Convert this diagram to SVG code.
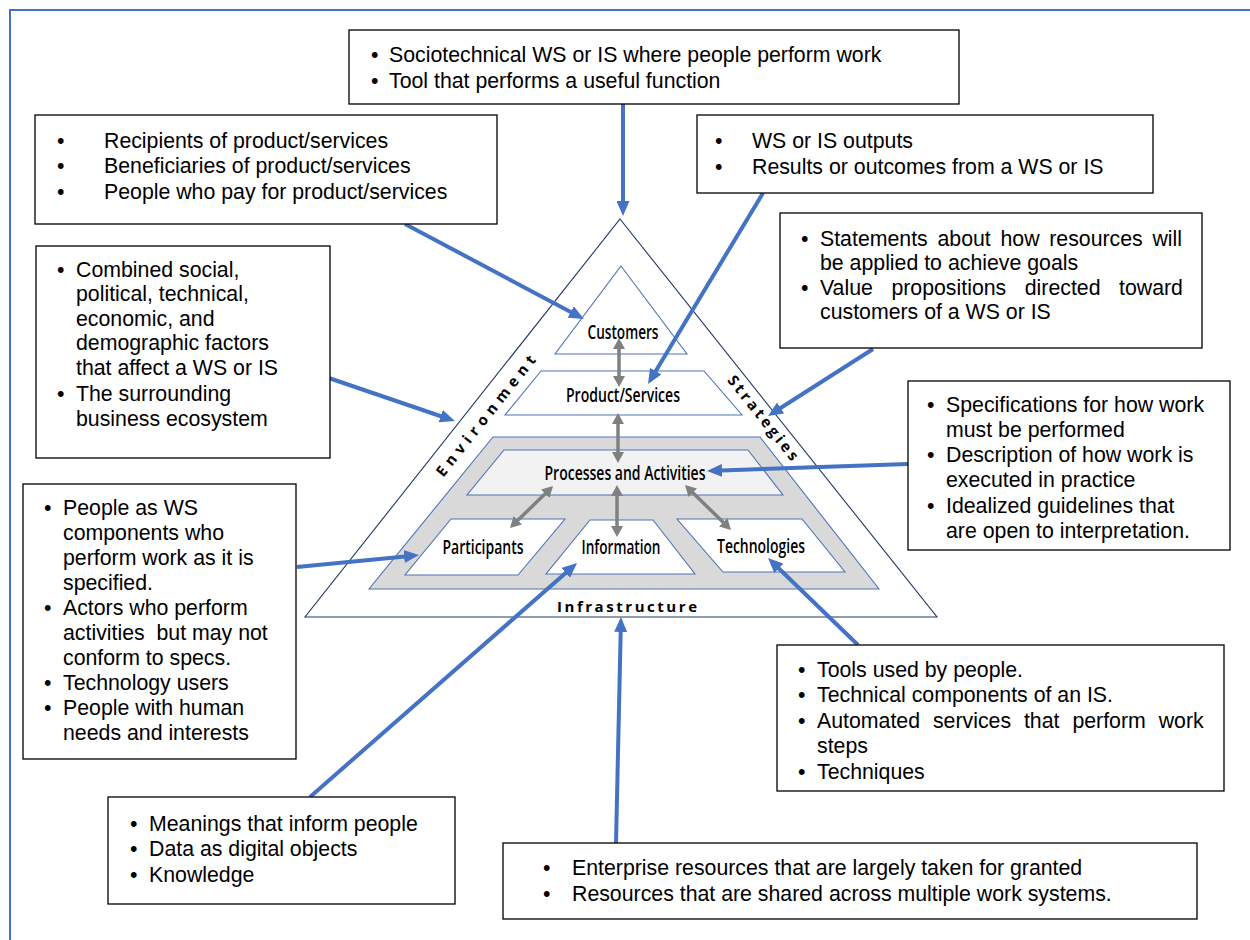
<svg xmlns="http://www.w3.org/2000/svg" width="1250" height="940" viewBox="0 0 1250 940">
  <style>
    .box { fill: #fff; stroke: #000; stroke-width: 1.3; }
    .t { font-family: "Liberation Sans", Arial, sans-serif; font-size: 21.3px; fill: #000; }
    .lbl { font-family: "Open Sans", "Noto Sans", sans-serif; font-weight: 600; font-size: 19px; fill: #000; text-anchor: middle; }
    .side { font-family: "Open Sans", "Noto Sans", sans-serif; font-weight: 700; font-size: 15px; fill: #000; text-anchor: middle; }
    .layer { stroke: #4f74b8; stroke-width: 1.1; }
    .conn { stroke: #4472c4; stroke-width: 4; fill: none; marker-end: url(#ah); }
    .link { stroke: #808080; stroke-width: 3.5; fill: none; marker-start: url(#gh); marker-end: url(#gh); }
  </style>
  <defs>
    <marker id="ah" viewBox="0 0 15 13" refX="1" refY="6.5" markerWidth="15" markerHeight="13" markerUnits="userSpaceOnUse" orient="auto">
      <path d="M0,0 L15,6.5 L0,13 z" fill="#4472c4"/>
    </marker>
    <marker id="gh" viewBox="0 0 11 12" refX="1" refY="6" markerWidth="11" markerHeight="12" markerUnits="userSpaceOnUse" orient="auto-start-reverse">
      <path d="M0,0 L11,6 L0,12 z" fill="#808080"/>
    </marker>
  </defs>

  <rect width="1250" height="940" fill="#fff"/>
  <!-- page frame -->
  <path d="M10,940 V10 H1250" fill="none" stroke="#4472c4" stroke-width="2"/>

  <!-- work system pyramid -->
  <g id="ws-frame">
    <polygon points="620,219 937,617 305,617" fill="#fff" stroke="#1f3864" stroke-width="1.1"/>
  </g>
  <g id="customers">
    <polygon class="layer" points="621,266 687,354 555,354" fill="#fff"/>
    <text class="lbl" x="623" y="339" textLength="71" lengthAdjust="spacingAndGlyphs">Customers</text>
  </g>
  <g id="product-services">
    <polygon class="layer" points="541,371 704,371 742,415 505,415" fill="#fff"/>
    <text class="lbl" x="623" y="402" textLength="114" lengthAdjust="spacingAndGlyphs">Product/Services</text>
  </g>
  <g id="work-core">
    <polygon class="layer" points="493,437 760,437 879,589 369,589" fill="#d9d9d9"/>
  </g>
  <g id="processes">
    <polygon class="layer" points="504,450 748,450 783,495 467,495" fill="#f2f2f2"/>
    <text class="lbl" x="625" y="480" textLength="161" lengthAdjust="spacingAndGlyphs">Processes and Activities</text>
  </g>
  <g id="participants">
    <polygon class="layer" points="451,519 565,519 518,575 405,575" fill="#fff"/>
    <text class="lbl" x="483" y="554" textLength="81" lengthAdjust="spacingAndGlyphs">Participants</text>
  </g>
  <g id="information">
    <polygon class="layer" points="590,520 653,520 695,574 546,574" fill="#fff"/>
    <text class="lbl" x="621" y="554" textLength="79" lengthAdjust="spacingAndGlyphs">Information</text>
  </g>
  <g id="technologies">
    <polygon class="layer" points="677,519 802,519 845,572 723,572" fill="#fff"/>
    <text class="lbl" x="761" y="553" textLength="88" lengthAdjust="spacingAndGlyphs">Technologies</text>
  </g>
  <g id="environment">
    <text class="side" transform="translate(486,416) rotate(-51.5)" x="0" y="5" textLength="150" lengthAdjust="spacing">Environment</text>
  </g>
  <g id="strategies">
    <text class="side" transform="translate(763,418) rotate(51.5)" x="0" y="5" textLength="104" lengthAdjust="spacing">Strategies</text>
  </g>
  <g id="infrastructure">
    <text class="side" x="627" y="612" textLength="140" lengthAdjust="spacing">Infrastructure</text>
  </g>

  <!-- internal relationships and callout connectors -->
  <g id="connectors">
    <line class="link" x1="619" y1="348" x2="619" y2="377"/>
    <line class="link" x1="618" y1="423" x2="618" y2="453"/>
    <line class="link" x1="617" y1="495" x2="617" y2="527"/>
    <line class="link" x1="545.9" y1="493" x2="517.1" y2="521"/>
    <line class="link" x1="692.1" y1="492" x2="723.9" y2="523"/>

    <line class="conn" x1="623" y1="104" x2="623" y2="202"/>
    <line class="conn" x1="405" y1="224" x2="571.6" y2="312.4"/>
    <line class="conn" x1="763" y1="193" x2="655.2" y2="372"/>
    <line class="conn" x1="873" y1="349" x2="779.8" y2="408.5"/>
    <line class="conn" x1="908" y1="464" x2="721" y2="470.5"/>
    <line class="conn" x1="320" y1="375" x2="441.7" y2="416.5"/>
    <line class="conn" x1="297" y1="567" x2="405.1" y2="556.4"/>
    <line class="conn" x1="310" y1="797" x2="566.5" y2="572.2"/>
    <line class="conn" x1="616" y1="843" x2="620.7" y2="631"/>
    <line class="conn" x1="858" y1="645" x2="778.1" y2="567.7"/>
  </g>

  <!-- callout boxes -->
  <g id="box-system">
    <rect class="box" x="349" y="30" width="610" height="74"/>
    <text class="t" x="371" y="62">•</text><text class="t" x="389" y="62">Sociotechnical WS or IS where people perform work</text>
    <text class="t" x="371" y="88">•</text><text class="t" x="389" y="88">Tool that performs a useful function</text>
  </g>
  <g id="box-customers">
    <rect class="box" x="35" y="115" width="462" height="109"/>
    <text class="t" x="57" y="148">•</text><text class="t" x="104" y="148">Recipients of product/services</text>
    <text class="t" x="57" y="173">•</text><text class="t" x="104" y="173">Beneficiaries of product/services</text>
    <text class="t" x="57" y="199">•</text><text class="t" x="104" y="199">People who pay for product/services</text>
  </g>
  <g id="box-products">
    <rect class="box" x="697" y="115" width="456" height="78"/>
    <text class="t" x="715" y="148">•</text><text class="t" x="752" y="148">WS or IS outputs</text>
    <text class="t" x="715" y="174">•</text><text class="t" x="752" y="174">Results or outcomes from a WS or IS</text>
  </g>
  <g id="box-strategies">
    <rect class="box" x="780" y="213" width="422" height="135"/>
    <text class="t" x="801" y="246">•</text><text class="t" x="820" y="246" word-spacing="3.8">Statements about how resources will</text>
    <text class="t" x="820" y="270">be applied to achieve goals</text>
    <text class="t" x="801" y="295">•</text><text class="t" x="820" y="295" word-spacing="12.6">Value propositions directed toward</text>
    <text class="t" x="820" y="319">customers of a WS or IS</text>
  </g>
  <g id="box-environment">
    <rect class="box" x="36" y="246" width="294" height="212"/>
    <text class="t" x="57" y="277">•</text><text class="t" x="76" y="277">Combined social,</text>
    <text class="t" x="76" y="301">political, technical,</text>
    <text class="t" x="76" y="326">economic, and</text>
    <text class="t" x="76" y="350">demographic factors</text>
    <text class="t" x="76" y="375">that affect a WS or IS</text>
    <text class="t" x="57" y="401">•</text><text class="t" x="76" y="401">The surrounding</text>
    <text class="t" x="76" y="426">business ecosystem</text>
  </g>
  <g id="box-processes">
    <rect class="box" x="908" y="381" width="322" height="169"/>
    <text class="t" x="927" y="412">•</text><text class="t" x="946" y="412">Specifications for how work</text>
    <text class="t" x="946" y="437">must be performed</text>
    <text class="t" x="927" y="462">•</text><text class="t" x="946" y="462">Description of how work is</text>
    <text class="t" x="946" y="487">executed in practice</text>
    <text class="t" x="927" y="513">•</text><text class="t" x="946" y="513">Idealized guidelines that</text>
    <text class="t" x="946" y="538">are open to interpretation.</text>
  </g>
  <g id="box-participants">
    <rect class="box" x="23" y="484" width="273" height="275"/>
    <text class="t" x="44" y="515">•</text><text class="t" x="63" y="515">People as WS</text>
    <text class="t" x="63" y="540">components who</text>
    <text class="t" x="63" y="565">perform work as it is</text>
    <text class="t" x="63" y="590">specified.</text>
    <text class="t" x="44" y="615">•</text><text class="t" x="63" y="615">Actors who perform</text>
    <text class="t" x="63" y="640" xml:space="preserve">activities  but may not</text>
    <text class="t" x="63" y="665">conform to specs.</text>
    <text class="t" x="44" y="690">•</text><text class="t" x="63" y="690">Technology users</text>
    <text class="t" x="44" y="715">•</text><text class="t" x="63" y="715">People with human</text>
    <text class="t" x="63" y="740">needs and interests</text>
  </g>
  <g id="box-technologies">
    <rect class="box" x="777" y="645" width="447" height="146"/>
    <text class="t" x="798" y="677">•</text><text class="t" x="817" y="677">Tools used by people.</text>
    <text class="t" x="798" y="702">•</text><text class="t" x="817" y="702">Technical components of an IS.</text>
    <text class="t" x="798" y="728">•</text><text class="t" x="817" y="728" word-spacing="7">Automated services that perform work</text>
    <text class="t" x="817" y="753">steps</text>
    <text class="t" x="798" y="779">•</text><text class="t" x="817" y="779">Techniques</text>
  </g>
  <g id="box-information">
    <rect class="box" x="108" y="797" width="347" height="107"/>
    <text class="t" x="130" y="831">•</text><text class="t" x="149" y="831">Meanings that inform people</text>
    <text class="t" x="130" y="856">•</text><text class="t" x="149" y="856">Data as digital objects</text>
    <text class="t" x="130" y="882">•</text><text class="t" x="149" y="882">Knowledge</text>
  </g>
  <g id="box-infrastructure">
    <rect class="box" x="503" y="843" width="694" height="76"/>
    <text class="t" x="543" y="875">•</text><text class="t" x="572" y="875">Enterprise resources that are largely taken for granted</text>
    <text class="t" x="543" y="901">•</text><text class="t" x="572" y="901">Resources that are shared across multiple work systems.</text>
  </g>
</svg>
